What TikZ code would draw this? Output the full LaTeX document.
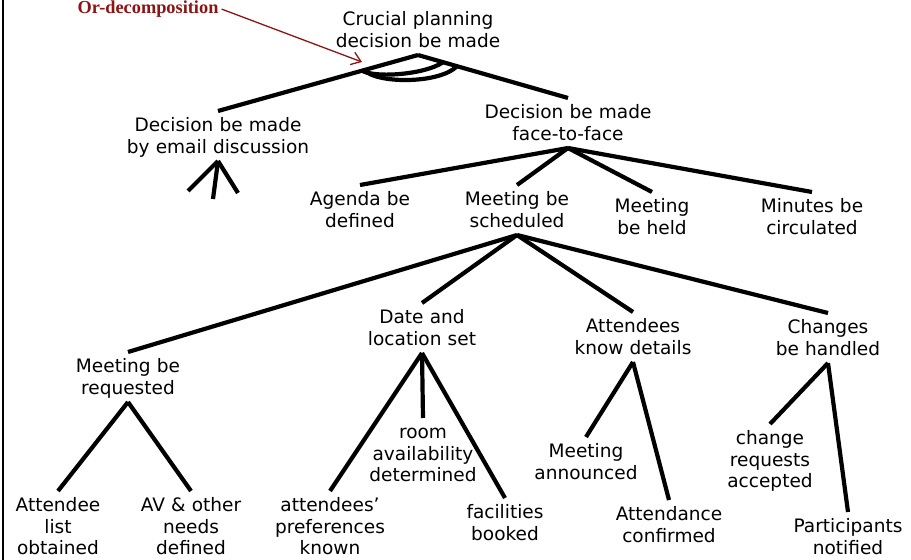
\documentclass[tikz,border=0pt]{standalone}
\usepackage{fontspec}
\setmainfont{DejaVu Sans}
\newfontfamily\orfont{Liberation Serif}
\usetikzlibrary{calc,arrows.meta}
\definecolor{orred}{RGB}{140,20,20}
\newcommand{\goalfont}{\fontsize{18.6}{21.7}\selectfont}
\begin{document}
\begin{tikzpicture}[x=1bp,y=-1bp,
		goal/.style={align=center, text width=220bp, inner sep=0pt, anchor=north, font=\goalfont,
			execute at begin node=\rule{0pt}{20.5bp},
			execute at end node=\rule[-7.5bp]{0pt}{0pt}},
		link/.style={line width=4.2bp},
		orlabel/.style={font=\orfont\bfseries\fontsize{18.4}{20}\selectfont, text=orred, inner sep=3bp, anchor=base},
		orarrow/.style={draw=orred, line width=1.3bp, -{Straight Barb[length=9bp,width=13bp]}}]
			\useasboundingbox (0,0) rectangle (911,560);
			\draw[line width=1.5bp] (3,0) -- (3,560);
			%
			\node[goal] (root) at (418,5) {Crucial planning\\decision be made};
			\node[goal] (email) at (218,111) {Decision be made\\by email discussion};
			\node[goal] (f2f) at (568,98) {Decision be made\\face-to-face};
			\draw[link] (root.south) -- (email.north);
			\draw[link] (root.south) -- (f2f.north);
			% or-arcs
			\coordinate (or1a) at ($(root.south)!0.28!(email.north)$);
			\coordinate (or1b) at ($(root.south)!0.167!(f2f.north)$);
			\coordinate (or2a) at ($(root.south)!0.27!(email.north)$);
			\coordinate (or2b) at ($(root.south)!0.26!(f2f.north)$);
			\draw[link] (or1a) .. controls +(13,7.5) and +(-18,12.5) .. (or1b);
			\draw[link] (or2a) .. controls +(14,14) and +(-17,17.5) .. (or2b);
			\node[orlabel] (ordec) at (148,13.5) {Or-decomposition};
			\coordinate (ortip) at (362,62);
			\draw[orarrow] (ordec.east) -- (ortip);
			% email branch
			\coordinate (fork1) at (188,191);
			\coordinate (fork2) at (213,199);
			\coordinate (fork3) at (238,193);
			\draw[link] (email.south) -- (fork1);
			\draw[link] (email.south) -- (fork2);
			\draw[link] (email.south) -- (fork3);
			% face-to-face branch
			\node[goal] (agenda) at (360,185) {Agenda be\\defined};
			\node[goal] (sched) at (517,185) {Meeting be\\scheduled};
			\node[goal] (held) at (652,192) {Meeting\\be held};
			\node[goal] (minutes) at (812,192) {Minutes be\\circulated};
			\draw[link] (f2f.south) -- (agenda.north);
			\draw[link] (f2f.south) -- (sched.north);
			\draw[link] (f2f.south) -- (held.north);
			\draw[link] (f2f.south) -- (minutes.north);
			% scheduling
			\node[goal] (request) at (128,352) {Meeting be\\requested};
			\node[goal] (dateloc) at (422,303) {Date and\\location set};
			\node[goal] (details) at (633,312) {Attendees\\know details};
			\node[goal] (changes) at (828,313) {Changes\\be handled};
			\draw[link] (sched.south) -- (request.north);
			\draw[link] (sched.south) -- (dateloc.north);
			\draw[link] (sched.south) -- (details.north);
			\draw[link] (sched.south) -- (changes.north);
			%
			\node[goal] (attlist) at (58,491) {Attendee\\list\\obtained};
			\node[goal] (avneeds) at (191,491) {AV \& other\\needs\\defined};
			\draw[link] (request.south) -- (attlist.north);
			\draw[link] (request.south) -- (avneeds.north);
			%
			\node[goal] (prefs) at (330,491) {attendees’\\preferences\\known};
			\node[goal] (room) at (423,418) {room\\availability\\determined};
			\node[goal] (facil) at (505,498) {facilities\\booked};
			\draw[link] (dateloc.south) -- (prefs.north);
			\draw[link] (dateloc.south) -- (room.north);
			\draw[link] (dateloc.south) -- (facil.north);
			%
			\node[goal] (announce) at (586,437) {Meeting\\announced};
			\node[goal] (confirm) at (669,500) {Attendance\\confirmed};
			\draw[link] (details.south) -- (announce.north);
			\draw[link] (details.south) -- (confirm.north);
			%
			\node[goal] (accept) at (770,424) {change\\requests\\accepted};
			\node[goal] (notify) at (848,512) {Participants\\notified};
			\draw[link] (changes.south) -- (accept.north);
			\draw[link] (changes.south) -- (notify.north);
		\end{tikzpicture}
\end{document}
